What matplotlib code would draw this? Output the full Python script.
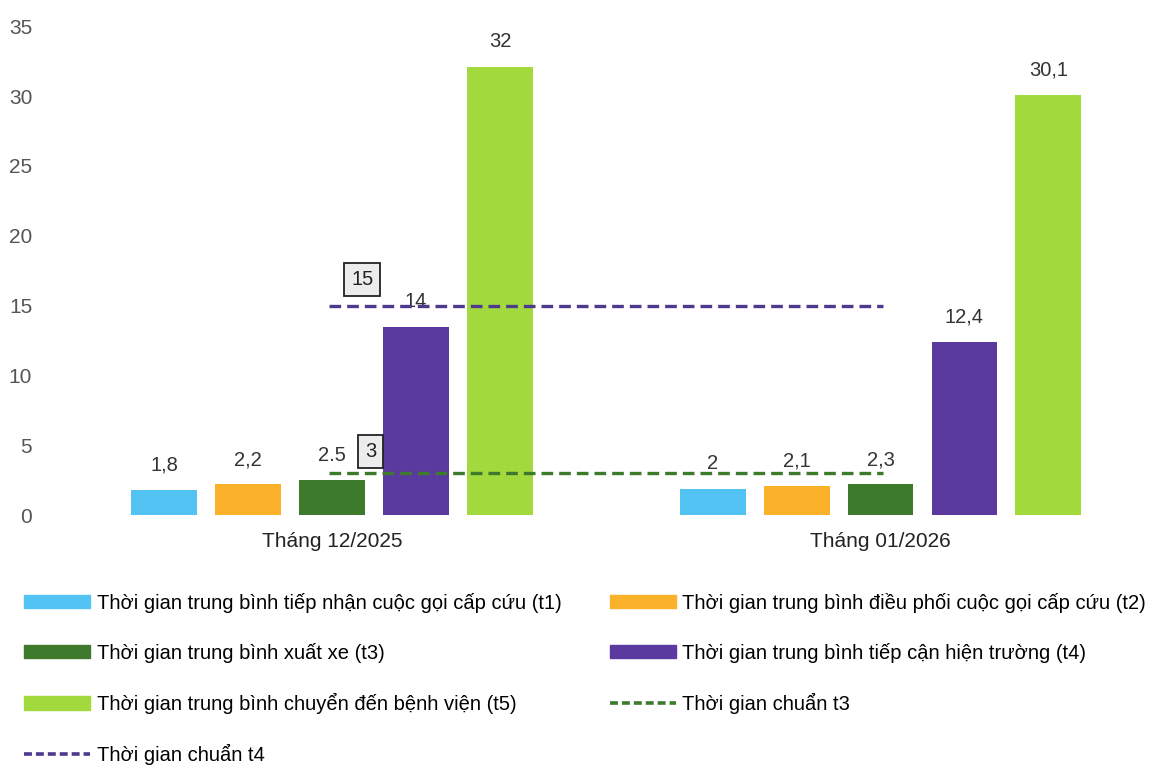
import matplotlib.pyplot as plt
from matplotlib.patches import Patch
from matplotlib.lines import Line2D
import numpy as np

plt.rcParams['font.family'] = ['Liberation Sans', 'DejaVu Sans']

# data
months = ['Tháng 12/2025', 'Tháng 01/2026']
series = [
    'Thời gian trung bình tiếp nhận cuộc gọi cấp cứu (t1)',
    'Thời gian trung bình điều phối cuộc gọi cấp cứu (t2)',
    'Thời gian trung bình xuất xe (t3)',
    'Thời gian trung bình tiếp cận hiện trường (t4)',
    'Thời gian trung bình chuyển đến bệnh viện (t5)',
]
t1 = [1.8, 1.9]
t2 = [2.2, 2.1]
t3 = [2.5, 2.2]
t4 = [13.5, 12.4]
t5 = [32.1, 30.1]
labels_t1 = ['1,8', '2']
labels_t2 = ['2,2', '2,1']
labels_t3 = ['2.5', '2,3']
labels_t4 = ['14', '12,4']
labels_t5 = ['32', '30,1']
std_t3 = 3
std_t4 = 15
std_names = ['Thời gian chuẩn t3', 'Thời gian chuẩn t4']

colors = ['#52c3f3', '#fbb129', '#3d7a2c', '#5b3aa0', '#a2d93c']
std_colors = ['#3d7a2c', '#4e3a8c']

fig = plt.figure(figsize=(11.76, 7.7), dpi=100)
ax = fig.add_axes([0.038, 0.331, 0.957, 0.635])

x = np.arange(len(months))
slot = 0.153
width = 0.12
values = [t1, t2, t3, t4, t5]
texts = [labels_t1, labels_t2, labels_t3, labels_t4, labels_t5]
for i, (vals, labs, c) in enumerate(zip(values, texts, colors)):
    pos = x + (i - 2) * slot
    ax.bar(pos, vals, width=width, color=c, zorder=2)
    for p, v, t in zip(pos, vals, labs):
        ax.annotate(t, (p, v), xytext=(0, 11), textcoords='offset points',
                    ha='center', va='bottom', fontsize=14.5, color='#333333')

# standard lines
x0, x1 = -0.005, 1.005
ax.plot([x0, x1], [std_t4, std_t4], color=std_colors[1], lw=2.4,
        ls=(0, (3.5, 1.8)), zorder=3)
ax.plot([x0, x1], [std_t3, std_t3], color=std_colors[0], lw=2.4,
        ls=(0, (3.5, 1.8)), zorder=3)
box = dict(boxstyle='square,pad=0.35', fc='#ececec', ec='#222222', lw=1.3)
ax.text(0.055, std_t4 + 1.85, str(std_t4), ha='center', va='center',
        fontsize=14.5, color='#222222', bbox=box)
ax.text(0.07, std_t3 + 1.55, str(std_t3), ha='center', va='center',
        fontsize=14.5, color='#222222', bbox=box)

ax.set_ylim(0, 35)
ax.set_yticks(range(0, 36, 5))
ax.set_xlim(-0.524, 1.528)
ax.set_xticks(x)
ax.set_xticklabels(months, fontsize=15, color='#222222')
ax.tick_params(axis='both', length=0)
ax.tick_params(axis='y', labelsize=15, labelcolor='#555555', pad=9)
ax.tick_params(axis='x', pad=12)
for s in ax.spines.values():
    s.set_visible(False)

# legend in row order
h_bars = [Patch(color=c) for c in colors]
h_std = [Line2D([], [], color=c, lw=2.6, ls=(0, (2.2, 1.1))) for c in std_colors]
handles = [h_bars[0], h_bars[2], h_bars[4], h_std[1], h_bars[1], h_bars[3], h_std[0]]
names = [series[0], series[2], series[4], std_names[1], series[1], series[3], std_names[0]]
fig.legend(handles, names, ncol=2, loc='upper left',
           bbox_to_anchor=(0.005, 0.254), frameon=False,
           fontsize=14.5, handlelength=3.3, handleheight=0.65,
           handletextpad=0.3, labelspacing=1.5, columnspacing=2.4)

fig.savefig('out.png', dpi=100)
